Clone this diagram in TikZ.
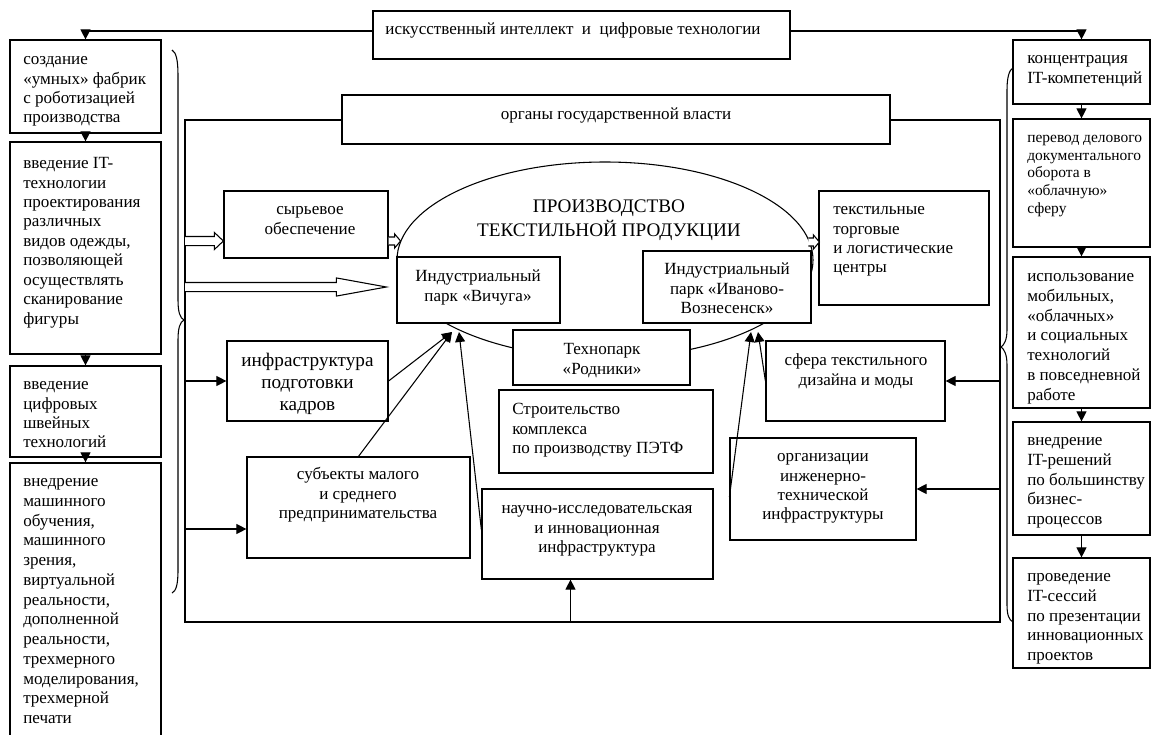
\documentclass[tikz,border=0pt]{standalone}
\usepackage{fontspec}
\setmainfont{Liberation Serif}
\usetikzlibrary{fit,calc,arrows.meta,shapes.geometric}
\tikzset{
  ln/.style={line width=0.8pt},
  bx/.style={draw, line width=0.9pt, fill=white, inner sep=0pt},
  tx/.style={inner sep=0pt, yshift=-2pt, font=\fontsize{12.8}{14.6}\selectfont},
  txl/.style={tx, anchor=north west, align=left},
  txc/.style={tx, anchor=north, align=center},
  big/.style={font=\fontsize{14.4}{16.5}\selectfont},
  arr/.style={line width=0.8pt, -{Triangle[length=7.5pt,width=7.5pt]}},
}
\newcommand\harrow[5]{\draw[ln,fill=white] let \p1=#1, \p2=#2 in
  (\x1,\y1+#3) -- (\x2-#5,\y1+#3) -- (\x2-#5,\y1+#4) -- (\x2,\y1) -- (\x2-#5,\y1-#4) -- (\x2-#5,\y1-#3) -- (\x1,\y1-#3);}
\begin{document}
\begin{tikzpicture}[x=0.75pt,y=-0.75pt]
\useasboundingbox (0,0) rectangle (1153,735);

% main frame
\coordinate (fTL) at (185,120);
\coordinate (fBR) at (1000,622);
\draw[ln] (fTL) rectangle (fBR);

% braces
\draw[ln] (172,50) .. controls (176,52) and (178,60) .. (178,75) -- (178,300)
  .. controls (178,312) and (180,318) .. (184,320)
  .. controls (180,322) and (178,328) .. (178,340) -- (178,570)
  .. controls (178,585) and (176,591) .. (172,593);
\draw[ln] (1013,68) .. controls (1009,70) and (1007,78) .. (1007,90) -- (1007,330)
  .. controls (1007,340) and (1004,345) .. (1001,347)
  .. controls (1004,349) and (1007,354) .. (1007,365) -- (1007,605)
  .. controls (1007,615) and (1009,620) .. (1013,622);

% top boxes
\node[bx, fit={(373,11) (790,59)}] (top) {};
\node[txc] at (573,18) {\strut искусственный интеллект\ \ и\ \ цифровые технологии};
\node[bx, fit={(342,95) (890,144)}] (organ) {};
\node[txc] at (616,103) {\strut органы государственной власти};

% left column
\node[bx, fit={(10,40) (161,133)}] (L1) {};
\node[txl] at (23,48) {\strut создание\\«умных» фабрик\\с роботизацией\\производства};
\node[bx, fit={(10,142) (161,354)}] (L2) {};
\node[txl] at (23,152) {\strut введение IT-\\технологии\\проектирования\\различных\\видов одежды,\\позволяющей\\осуществлять\\сканирование\\фигуры};
\node[bx, fit={(10,366) (161,457)}] (L3) {};
\node[txl] at (23,373) {\strut введение\\цифровых\\швейных\\технологий};
\node[bx, fit={(10,463) (161,745)}] (L4) {};
\node[txl, font=\fontsize{12.8}{14.8}\selectfont] at (23,470) {\strut внедрение\\машинного\\обучения,\\машинного\\зрения,\\виртуальной\\реальности,\\дополненной\\реальности,\\трехмерного\\моделирования,\\трехмерной\\печати};

% right column
\node[bx, fit={(1013,40) (1150,104)}] (R1) {};
\node[txl] at (1027,47) {\strut концентрация\\IT-компетенций};
\node[bx, fit={(1013,119) (1150,247)}] (R2) {};
\node[txl, font=\fontsize{11.6}{13.3}\selectfont] at (1027,127) {\strut перевод делового\\документального\\оборота в\\«облачную»\\сферу};
\node[bx, fit={(1013,257) (1150,408)}] (R3) {};
\node[txl, font=\fontsize{12.8}{14.8}\selectfont] at (1027,265) {\strut использование\\мобильных,\\«облачных»\\и социальных\\технологий\\в повседневной\\работе};
\node[bx, fit={(1013,422) (1150,535)}] (R4) {};
\node[txl, font=\fontsize{12.8}{14.8}\selectfont] at (1027,429) {\strut внедрение\\IT-решений\\по большинству\\бизнес-\\процессов};
\node[bx, fit={(1013,558) (1150,668)}] (R5) {};
\node[txl, font=\fontsize{12.8}{14.8}\selectfont] at (1027,565) {\strut проведение\\IT-сессий\\по презентации\\инновационных\\проектов};

% column arrows
\draw[arr] (L1.south) -- (L2.north);
\draw[arr] (L2.south) -- (L3.north);
\draw[arr] (L3.south) -- (L4.north);
\draw[arr] (R1.south) -- (R2.north);
\draw[arr] (R2.south) -- (R3.north);
\draw[arr] (R3.south) -- (R4.north);
\draw[arr] (R4.south) -- (R5.north);
\coordinate (aT) at (0,31);
\draw[arr] (top.west |- aT) -| (L1.north);
\draw[arr] (top.east |- aT) -| (R1.north);

% production ellipse
\node[draw, ln, ellipse, minimum width=312pt, minimum height=147pt, inner sep=0pt] (prod) at (605,260) {};
\node[txc, big] at (609,194) {\strut ПРОИЗВОДСТВО\\ТЕКСТИЛЬНОЙ ПРОДУКЦИИ};

% inner boxes
\node[bx, fit={(224,191) (388,258)}] (syr) {};
\node[txc] at (310,198) {\strut сырьевое\\обеспечение};
\node[bx, fit={(397,257) (560,323)}] (vich) {};
\node[txc] at (478,265) {\strut Индустриальный\\парк «Вичуга»};
\node[bx, fit={(643,251) (811,323)}] (ivan) {};
\node[txc] at (727,258) {\strut Индустриальный\\парк «Иваново-\\Вознесенск»};
\node[bx, fit={(513,330) (690,385)}] (techno) {};
\node[txc] at (602,338) {\strut Технопарк\\«Родники»};
\node[bx, fit={(499,390) (713,473)}] (stroi) {};
\node[txl] at (512,398) {\strut Строительство\\комплекса\\по производству ПЭТФ};
\node[bx, fit={(482,489) (713,579)}] (nauch) {};
\node[txc] at (597,497) {\strut научно-исследовательская\\и инновационная\\инфраструктура};
\node[bx, fit={(227,341) (388,421)}] (kadry) {};
\node[txc, big] at (307.5,348) {\strut инфраструктура\\подготовки\\кадров};
\node[bx, fit={(247,457) (470,558)}] (subj) {};
\node[txc] at (358,463) {\strut субъекты малого\\и среднего\\предпринимательства};
\node[bx, fit={(766,341) (945,421)}] (sfera) {};
\node[txc] at (856,349) {\strut сфера текстильного\\дизайна и моды};
\node[bx, fit={(730,438) (916,540)}] (orgi) {};
\node[txc] at (823,445) {\strut организации\\инженерно-\\технической\\инфраструктуры};
\node[bx, fit={(819,191) (989,305)}] (tex) {};
\node[txl] at (833,198) {\strut текстильные\\торговые\\и логистические\\центры};

% hollow arrows
\coordinate (h1) at (185,241);
\coordinate (h2) at (185,287);
\harrow{(h1)}{(syr.west |- h1)}{3.4pt}{6.4pt}{6.8pt}
\harrow{(h2)}{($(vich.west |- h2)+(-10,0)$)}{3.4pt}{6.8pt}{37.5pt}
\harrow{(syr.east |- h1)}{($(syr.east |- h1)+(12,0)$)}{3pt}{5.3pt}{4.5pt}
\coordinate (h3) at (0,242);
\harrow{($(tex.west |- h3)+(-10,0)$)}{($(tex.west |- h3)+(1,0)$)}{3pt}{5.3pt}{4.5pt}

% arrows from frame
\coordinate (ys) at (0,529);
\draw[arr] (kadry.west -| fTL) -- (kadry.west);
\draw[arr] (ys -| fTL) -- (ys -| subj.west);
\draw[arr] (sfera.east -| fBR) -- (sfera.east);
\draw[arr] (orgi.east -| fBR) -- (orgi.east);
\coordinate (nb) at ($(nauch.south)+(-27,0)$);
\draw[arr] (nb |- fBR) -- (nb);

% arrows to industrial parks
\coordinate (vt) at (452,332);
\coordinate (vt2) at (459,332);
\coordinate (it) at (751,332);
\coordinate (it2) at (758,332);
\draw[arr] (kadry.east) -- (vt);
\draw[arr] (subj.north) -- (vt);
\draw[arr] ($(nauch.west)+(0,-4)$) -- (vt2);
\draw[arr] ($(orgi.west)+(0,8)$) -- (it);
\draw[arr] (sfera.west) -- (it2);
\end{tikzpicture}
\end{document}
